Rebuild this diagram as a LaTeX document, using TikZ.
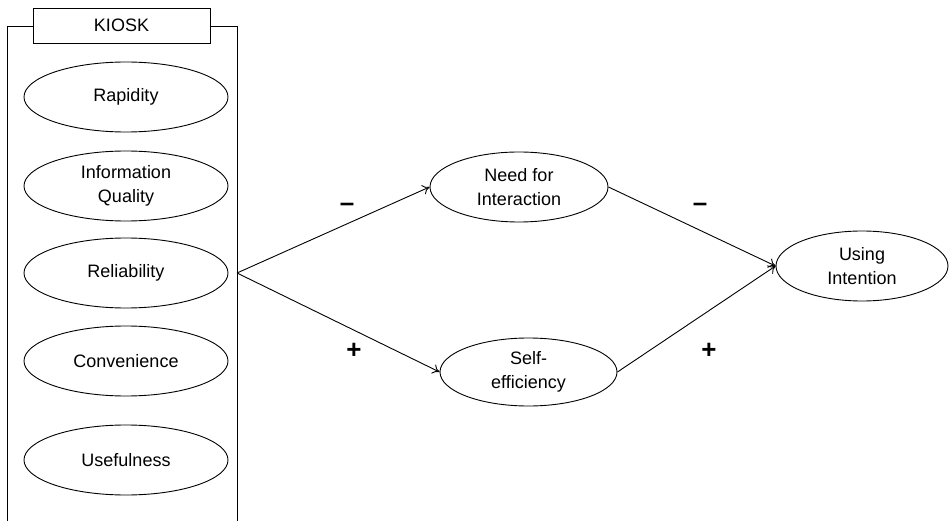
\documentclass[tikz,border=0pt]{standalone}
\usepackage{fontspec}
\setmainfont{Liberation Sans}
\usetikzlibrary{arrows.meta,shapes.geometric}
\begin{document}
\begin{tikzpicture}[x=1pt,y=-1pt,
  fac/.style={draw, line width=0.9pt, ellipse, minimum width=204pt, minimum height=70pt, inner sep=0pt, align=center, font=\fontsize{18}{24}\selectfont},
  ovl/.style={draw, line width=0.9pt, ellipse, inner sep=0pt, align=center, font=\fontsize{18}{24}\selectfont},
  link/.style={line width=0.9pt, -{To[length=7pt,width=10pt]}},
  sign/.style={font=\fontsize{26}{26}\selectfont\bfseries}]
\useasboundingbox (0,0) rectangle (950,521);
\fill[white] (0,0) rectangle (950,521);
% group frame
\coordinate (fl) at (7,521);
\coordinate (fr) at (237,521);
\draw[line width=0.9pt] (fl) -- (7,26) -- (33,26);
\draw[line width=0.9pt] (210,26) -- (237,26) -- (fr);
\node[draw, line width=0.9pt, minimum width=177pt, minimum height=35pt, inner sep=0pt, font=\fontsize{18}{24}\selectfont] (kiosk) at (121.5,25.5) {KIOSK};
% factors
\node[fac] (rap) at (126,97) {Rapidity};
\node[fac] (iq) at (126,186) {Information\\Quality};
\node[fac] (rel) at (126,273) {Reliability};
\node[fac] (conv) at (126,361) {Convenience};
\node[fac] (use) at (126,460) {Usefulness};
\coordinate (j) at (237,273);
% mediators
\node[ovl, minimum width=178pt, minimum height=70pt] (nfi) at (519,187) {Need for\\Interaction};
\node[ovl, minimum width=177pt, minimum height=68pt] (se) at (528.5,372) {Self-\\efficiency};
\node[ovl, minimum width=172pt, minimum height=70pt] (ui) at (862,266) {Using\\Intention};
% links
\draw[link] (j) -- (nfi.west);
\draw[link] (j) -- (se.west);
\draw[link] (nfi.east) -- (ui.west);
\draw[link] (se.east) -- (ui.west);
% signs
\node[sign] (s1) at (347,207) {–};
\node[sign] (s2) at (354,351) {+};
\node[sign] (s3) at (700,207) {–};
\node[sign] (s4) at (709,351) {+};
\end{tikzpicture}
\end{document}
